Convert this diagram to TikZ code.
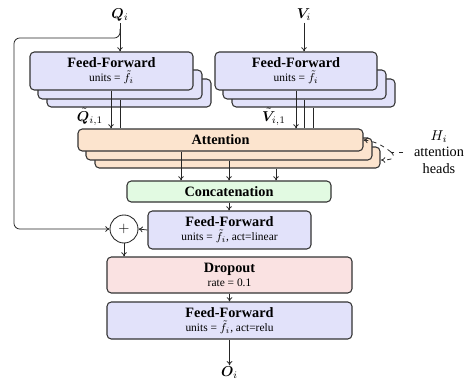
\documentclass[tikz,border=0pt]{standalone}
\usepackage{fontspec}
\setmainfont{LiberationSerif}[Extension=.ttf, UprightFont=*-Regular, BoldFont=*-Bold, ItalicFont=*-Italic, BoldItalicFont=*-BoldItalic, Ligatures=TeX]
\usepackage{amsmath}
\usepackage{bm}
\usetikzlibrary{arrows.meta}
\definecolor{ffcol}{RGB}{226,226,250}
\definecolor{attcol}{RGB}{252,228,206}
\definecolor{catcol}{RGB}{226,250,226}
\definecolor{dropcol}{RGB}{250,226,226}
\tikzset{
  bx/.style 2 args={draw=black!80, line width=0.75pt, rounded corners=3pt,
    minimum width=#1*0.7pt, minimum height=#2*0.7pt, inner sep=0pt, align=center},
  ffbox/.style={fill=ffcol},
  attbox/.style={fill=attcol},
  catbox/.style={fill=catcol},
  dropbox/.style={fill=dropcol},
  arr/.style={-{To[length=3pt,width=4pt]}, line width=0.55pt, draw=black!85},
  ln/.style={line width=0.55pt, draw=black!85},
  lbl/.style={inner sep=1pt},
}
\begin{document}
\begin{tikzpicture}[x=0.7pt, y=-0.7pt]
\useasboundingbox (0,0) rectangle (468,385);

% Input labels
\node[lbl] (Q) at (120,15) {$\bm{Q}_i$};
\node[lbl] (V) at (304,15) {$\bm{V}_i$};

% Left FF stack
\node[bx={164}{28}, ffbox] (ffL3) at (129,93) {};
\node[bx={164}{29}, ffbox] (ffL2) at (120,84.5) {};
\node[bx={163}{38}, ffbox] (ffL1) at (111.5,71) {\textbf{Feed-Forward}\\[-2pt]{\footnotesize units = $\tilde{f}_i$}};

% Right FF stack
\node[bx={163}{28}, ffbox] (ffR3) at (313.5,93) {};
\node[bx={163}{29}, ffbox] (ffR2) at (304.5,84.5) {};
\node[bx={162}{38}, ffbox] (ffR1) at (296,71) {\textbf{Feed-Forward}\\[-2pt]{\footnotesize units = $\tilde{f}_i$}};

% Attention stack
\node[bx={285}{21}, attbox] (attT) at (237.5,157.5) {};
\node[bx={286}{22}, attbox] (attS) at (229,149) {};
\node[bx={285}{22}, attbox] (attF) at (220.5,140) {\textbf{Attention}};

% Concatenation
\node[bx={204}{21}, catbox] (cat) at (229,191.5) {\textbf{Concatenation}};

% FF linear
\node[bx={163}{38}, ffbox] (fflin) at (229.5,230) {\textbf{Feed-Forward}\\[-2pt]{\footnotesize units = $\tilde{f}_i$, act=linear}};

% Plus
\node[draw=black!85, line width=0.6pt, circle, minimum size=28*0.7pt, inner sep=0pt] (plus) at (124,229) {$+$};

% Dropout
\node[bx={245}{36}, dropbox] (drop) at (229.5,275) {\textbf{Dropout}\\[-2pt]{\footnotesize rate = 0.1}};

% FF relu
\node[bx={245}{37}, ffbox] (ffrelu) at (229.5,320.5) {\textbf{Feed-Forward}\\[-2pt]{\footnotesize units = $\tilde{f}_i$, act=relu}};

% Output
\node[lbl] (O) at (229.5,373) {$\bm{O}_i$};

% Heads label
\node[align=center, inner sep=0pt] (H) at (439,152) {$H_i$\\[-0.5pt]attention\\[-0.5pt]heads};

% Input arrows
\draw[arr] (Q.south) -- (Q.south |- ffL1.north);
\draw[arr] (V.south) -- (V.south |- ffR1.north);

% Residual path
\coordinate (r0) at (120,29);
\coordinate (rl) at (14,38);
\draw[arr, rounded corners=4pt] (r0) |- (rl) |- (plus.west);

% FF to attention lines
\coordinate (lx1) at (111,0);
\coordinate (lx2) at (120,0);
\coordinate (rx1) at (296,0);
\coordinate (rx2) at (304.5,0);
\coordinate (rx3) at (313,0);
\draw[arr] (lx1 |- ffL1.south) -- (lx1 |- attF.north);
\draw[ln] (lx2 |- ffL2.south) -- (lx2 |- attF.north);
\draw[arr] (rx1 |- ffR1.south) -- (rx1 |- attF.north);
\draw[ln] (rx2 |- ffR2.south) -- (rx2 |- attF.north);
\draw[ln] (rx3 |- ffR3.south) -- (rx3 |- attF.north);

\node[lbl] (qlab) at (90,117) {$\tilde{\bm{Q}}_{i,1}$};
\node[lbl] (vlab) at (274,117) {$\tilde{\bm{V}}_{i,1}$};

% Attention to concatenation
\coordinate (c1) at (181,0);
\coordinate (c2) at (229,0);
\coordinate (c3) at (276,0);
\draw[arr] (c1 |- attF.south) -- (c1 |- cat.north);
\draw[arr] (c2 |- attS.south) -- (c2 |- cat.north);
\draw[arr] (c3 |- attT.south) -- (c3 |- cat.north);

% Down the chain
\draw[arr] (cat.south) -- (cat.south |- fflin.north);
\draw[arr] (fflin.west) -- (plus.east);
\draw[arr] (plus.south) -- (plus.south |- drop.north);
\draw[arr] (drop.south) -- (drop.south |- ffrelu.north);
\draw[arr] (ffrelu.south) -- (O.north);

% Heads dashed arrows
\coordinate (hs) at (403,152);
\coordinate (hm) at (391,152);
\draw[ln, dashed] (hs) -- (hm);
\draw[arr, dashed] (hm) .. controls (382,145) and (374,141) .. (attF.east);
\draw[arr, dashed] (hm) .. controls (397,158) and (392,160) .. (381,160);
\end{tikzpicture}
\end{document}
